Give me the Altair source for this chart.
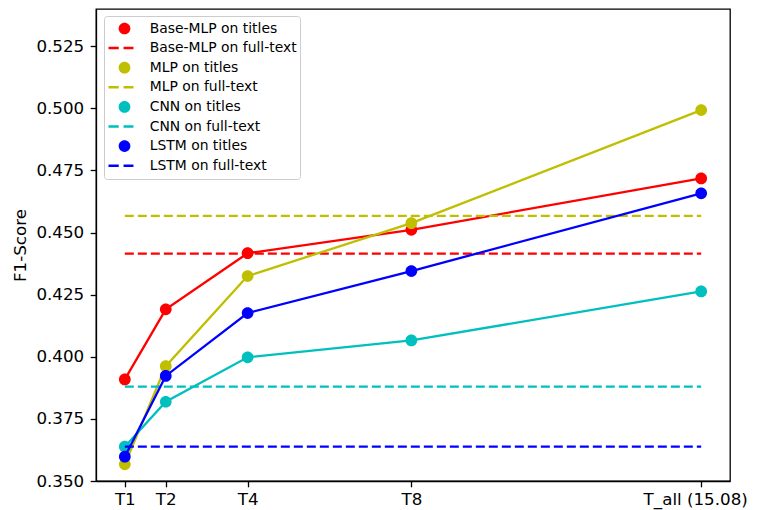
import altair as alt
import pandas as pd

# ---- data ----
x_vals = [1, 2, 4, 8, 15.08]
x_labels = ["T1", "T2", "T4", "T8", "T_all (15.08)"]
y_ticks = [0.350, 0.375, 0.400, 0.425, 0.450, 0.475, 0.500, 0.525]

models = ["Base-MLP", "MLP", "CNN", "LSTM"]
colors = ["#ff0000", "#bfbf00", "#00bfbf", "#0000ff"]

base_mlp_titles = [0.3909, 0.4191, 0.4417, 0.4511, 0.4718]
mlp_titles = [0.3567, 0.3962, 0.4325, 0.4538, 0.4993]
cnn_titles = [0.3638, 0.3819, 0.3998, 0.4066, 0.4263]
lstm_titles = [0.3598, 0.3923, 0.4176, 0.4345, 0.4658]
full_text = [0.4415, 0.4567, 0.3880, 0.3638]

titles_series = [base_mlp_titles, mlp_titles, cnn_titles, lstm_titles]

# ---- tables ----
rows = []
for m, vals in zip(models, titles_series):
    for xv, v in zip(x_vals, vals):
        rows.append({"model": m, "x": xv, "score": v, "label": f"{m} on titles"})
titles_df = pd.DataFrame(rows)

full_df = pd.DataFrame({
    "model": models,
    "x_start": [x_vals[0]] * len(models),
    "x_end": [x_vals[-1]] * len(models),
    "score": full_text,
    "label": [f"{m} on full-text" for m in models],
})

legend_labels = []
legend_colors = []
for m, c in zip(models, colors):
    legend_labels += [f"{m} on titles", f"{m} on full-text"]
    legend_colors += [c, c]

circle_path = "M -0.366 0 A 0.366 0.366 0 1 0 0.366 0 A 0.366 0.366 0 1 0 -0.366 0 Z"
dash_path = "M -1 -0.078 H -0.36 V 0.078 H -1 Z M -0.06 -0.078 H 0.56 V 0.078 H -0.06 Z"
shape_range = [circle_path, dash_path] * len(models)

color_scale = alt.Scale(domain=legend_labels, range=legend_colors)
shape_scale = alt.Scale(domain=legend_labels, range=shape_range)

label_expr = "''"
for v, l in reversed(list(zip(x_vals, x_labels))):
    label_expr = f"abs(datum.value - {v}) < 1e-6 ? '{l}' : ({label_expr})"

x_scale = alt.Scale(domain=[0.296, 15.784], nice=False, zero=False)
y_scale = alt.Scale(domain=[0.35, 0.54], nice=False, zero=False)
x_axis = alt.Axis(
    values=x_vals, labelExpr=label_expr, title=None, grid=False, labelPadding=5,
    labelOffset={"condition": {"test": "datum.value > 15", "value": -6}, "value": 0},
)
y_axis = alt.Axis(values=y_ticks, format=".3f", title="F1-Score", grid=False,
                  labelPadding=6.5,
                  titleFontSize=16.7, titleFont="DejaVu Sans", titleFontWeight="normal",
                  titlePadding=6)

legend = alt.Legend(title=None)

layers = []
for m, c in zip(models, colors):
    tdf = titles_df[titles_df["model"] == m]
    fdf = full_df[full_df["model"] == m]
    line = alt.Chart(tdf).mark_line(strokeWidth=2.3, color=c).encode(
        x=alt.X("x:Q", scale=x_scale, axis=x_axis),
        y=alt.Y("score:Q", scale=y_scale, axis=y_axis),
    )
    pts = alt.Chart(tdf).mark_point(filled=True, size=1024, opacity=1).encode(
        x=alt.X("x:Q", scale=x_scale, axis=x_axis),
        y=alt.Y("score:Q", scale=y_scale, axis=y_axis),
        color=alt.Color("label:N", scale=color_scale, legend=legend),
        shape=alt.Shape("label:N", scale=shape_scale, legend=legend),
    )
    rule = alt.Chart(fdf).mark_rule(strokeWidth=2.3, strokeDash=[9, 4], color=c).encode(
        x=alt.X("x_start:Q", scale=x_scale, axis=x_axis),
        x2="x_end:Q",
        y=alt.Y("score:Q", scale=y_scale, axis=y_axis),
    )
    layers += [line, pts, rule]

chart = alt.layer(*layers).properties(
    width=634,
    height=472,
    autosize=alt.AutoSizeParams(type="none"),
    padding={"left": 88, "top": 1, "right": 20, "bottom": 40},
).configure_view(
    stroke="black", strokeWidth=1.3
).configure_axis(
    labelFont="DejaVu Sans", labelFontSize=16.7, labelColor="black",
    tickColor="black", tickSize=5.8, tickWidth=1.3,
    domainColor="black", domainWidth=1.3, labelPadding=5.5,
    titleFont="DejaVu Sans", titleFontSize=16.7, titleFontWeight="normal",
    titleColor="black", titlePadding=7, grid=False,
).configure_legend(
    orient="none", legendX=8, legendY=7,
    fillColor="white", strokeColor="#cccccc", strokeWidth=1, cornerRadius=3,
    padding=3, labelFont="DejaVu Sans", labelFontSize=13.9, labelColor="black",
    symbolSize=1024, symbolStrokeWidth=0, symbolOpacity=1,
    clipHeight=19, rowPadding=0.6, symbolOffset=1.5, labelOffset=9.2, labelLimit=400,
)

chart.save("out.html", embed_options={"renderer": "svg", "actions": False})
